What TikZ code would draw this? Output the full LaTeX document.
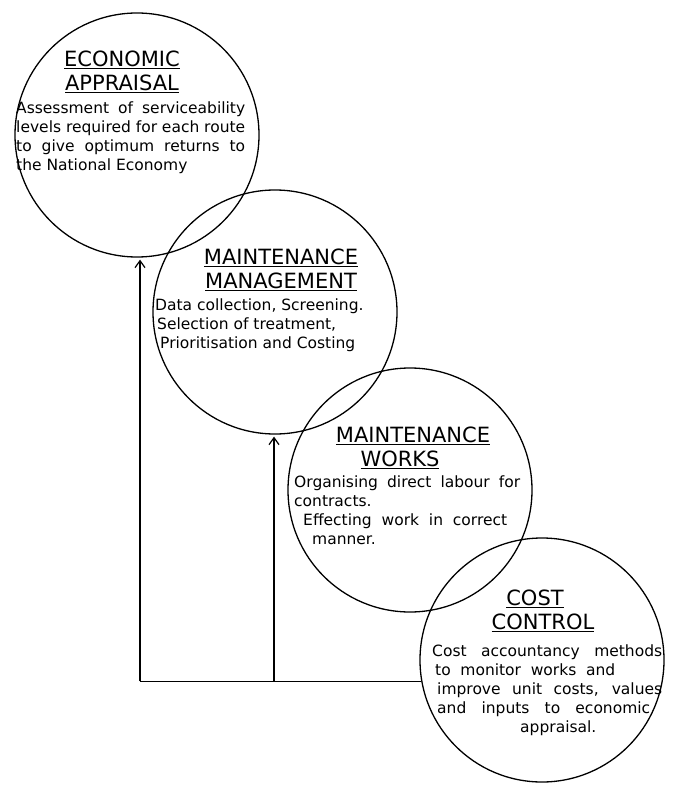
\documentclass[tikz,border=0pt]{standalone}
\usepackage{fontspec}
\setmainfont{DejaVu Sans}
\usetikzlibrary{arrows.meta}
\newcommand{\spreadline}[2]{\makebox[#1][s]{#2}}
\newcommand{\nudge}[1]{\rule{#1}{0pt}}
\tikzset{
  stage/.style={circle,draw,line width=1.3pt,minimum size=244pt,inner sep=0pt},
  heading/.style={font=\fontsize{21}{23.5}\selectfont,align=center,inner sep=0pt},
  blurb/.style={font=\fontsize{15.5}{18.8}\selectfont,align=left,inner sep=0pt,anchor=north west},
  feed/.style={line width=1.2pt,shorten >=2pt,-{Straight Barb[length=7pt,width=10pt]}},
}
\begin{document}
\begin{tikzpicture}[x=1pt,y=-1pt]
\useasboundingbox (0,0) rectangle (672,786);
% the four stages
\node[stage] (appraisal) at (137,135) {};
\node[stage] (management) at (275,312) {};
\node[stage] (works) at (410,490) {};
\node[stage] (control) at (542,660) {};
% titles
\node[heading] (appraisaltitle) at (122,72) {\underline{ECONOMIC}\\\underline{APPRAISAL}};
\node[heading] (managementtitle) at (281,270) {\underline{MAINTENANCE}\\\underline{MANAGEMENT}};
\node[heading] (workstitle) at (413,448) {\underline{MAINTENANCE}\\\underline{WORKS}\nudge{26pt}};
\node[heading] (controltitle) at (539,611) {\underline{COST}\nudge{8pt}\\\nudge{8pt}\underline{CONTROL}};
% descriptions
\node[blurb] (appraisaltext) at (16,102) {\spreadline{229pt}{Assessment of serviceability}\\
  \spreadline{229pt}{levels required for each route}\\
  \spreadline{229pt}{to give optimum returns to}\\
  the National Economy};
\node[blurb] (managementtext) at (155,299) {Data collection, Screening.\\
  \hspace{2pt}Selection of treatment,\\
  \hspace{5pt}Prioritisation and Costing};
\node[blurb] (workstext) at (294,476) {\spreadline{226pt}{Organising direct labour for}\\
  contracts.\\
  \hspace{9pt}\spreadline{204pt}{Effecting work in correct}\\
  \hspace{18pt}manner.};
\node[blurb] (controltext) at (432,645) {\spreadline{230pt}{Cost accountancy methods}\\
  \hspace{3pt}\spreadline{180pt}{to monitor works and}\\
  \hspace{5pt}\spreadline{225pt}{improve unit costs, values}\\
  \hspace{5pt}\spreadline{213pt}{and inputs to economic}\\
  \hspace{88pt}appraisal.};
% feedback lines
\coordinate (corner) at (140,0 |- control.190);
\coordinate (split) at (274,0 |- control.190);
\draw[line width=1.2pt] (control.190) -- (corner);
\draw[feed] (corner) -- (corner |- appraisal.south);
\draw[feed] (split) -- (split |- management.south);
\end{tikzpicture}
\end{document}
